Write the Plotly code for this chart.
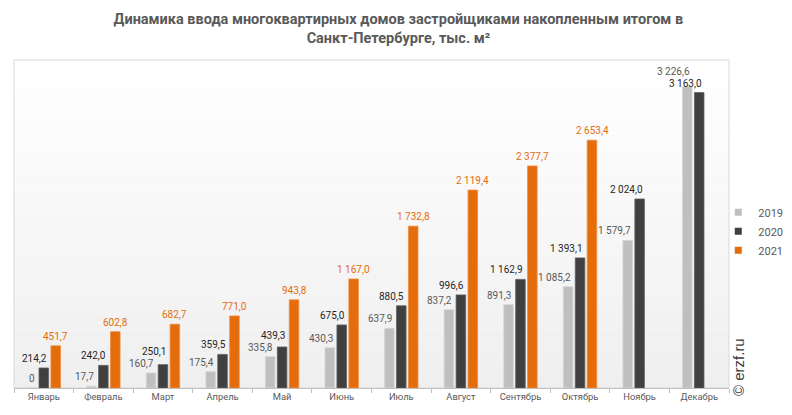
import plotly.graph_objects as go

months = ["Январь", "Февраль", "Март", "Апрель", "Май", "Июнь", "Июль",
          "Август", "Сентябрь", "Октябрь", "Ноябрь", "Декабрь"]
series_names = ["2019", "2020", "2021"]
v2019 = [0, 17.7, 160.7, 175.4, 335.8, 430.3, 637.9, 837.2, 891.3, 1085.2, 1579.7, 3226.6]
v2020 = [214.2, 242.0, 250.1, 359.5, 439.3, 675.0, 880.5, 996.6, 1162.9, 1393.1, 2024.0, 3163.0]
v2021 = [451.7, 602.8, 682.7, 771.0, 943.8, 1167.0, 1732.8, 2119.4, 2377.7, 2653.4, None, None]

title_text = "Динамика ввода многоквартирных домов застройщиками накопленным итогом в<br>Санкт-Петербурге, тыс. м²"
watermark = "© erzf.ru"

bar_colors = ["#bfbfbf", "#404040", "#e46c0a"]
line_colors = ["#d4d4d4", "#5e5e5e", "#f08a3c"]
label_colors = ["#595959", "#262626", "#e46c0a"]
# label placement per series: (xanchor, xshift)
label_place = [("right", -7), ("right", 5), ("center", 12)]

FONT = "Roboto, Arial, sans-serif"
W, H = 792, 415
ML, MR, MT, MB = 14, 63, 60, 27
YMAX = 3512
PX_PER_UNIT = (H - MT - MB) / YMAX
MIN_SEP = 12  # px between stacked labels of one month
BASE_SHIFT = 2


def fmt(v):
    if v == 0:
        return "0"
    s = f"{v:,.1f}"
    return s.replace(",", " ").replace(".", ",")


fig = go.Figure()
all_series = [v2019, v2020, v2021]
for name, vals, col, lcol in zip(series_names, all_series, bar_colors, line_colors):
    fig.add_trace(go.Bar(
        x=months, y=vals, name=name, showlegend=False,
        marker=dict(color=col, line=dict(color=lcol, width=0.8)),
        hoverinfo="x+y",
    ))
    # legend entry with small square marker
    fig.add_trace(go.Scatter(
        x=[None], y=[None], mode="markers", name=name,
        marker=dict(symbol="square", size=7, color=col),
    ))

annotations = []
for mi, m in enumerate(months):
    items = []
    for si, vals in enumerate(all_series):
        v = vals[mi]
        if v is None:
            continue
        items.append([si, v, v * PX_PER_UNIT + BASE_SHIFT])
    # resolve collisions between neighbouring series: raise the higher label
    for a in range(len(items) - 1):
        lo, hi = items[a], items[a + 1]
        if abs(hi[2] - lo[2]) < MIN_SEP:
            if hi[1] >= lo[1]:
                hi[2] = lo[2] + MIN_SEP
            else:
                lo[2] = hi[2] + MIN_SEP
    for si, v, hpx in items:
        xa, xs = label_place[si]
        annotations.append(dict(
            x=m, y=v, xref="x", yref="y", text=fmt(v), showarrow=False,
            xanchor=xa, yanchor="bottom", xshift=xs,
            yshift=hpx - v * PX_PER_UNIT,
            font=dict(family=FONT, size=10, color=label_colors[si]),
        ))

annotations.append(dict(
    x=1.0126, y=0.064, xref="paper", yref="paper", text=watermark,
    showarrow=False, textangle=-90, xanchor="center", yanchor="middle",
    font=dict(family="Liberation Sans, Arial, sans-serif", size=15, color="#404040"),
))

# vertical gradient background for plot area (stripes)
shapes = []
n = 40
for i in range(n):
    t = i / (n - 1)
    g = int(round(0xEF + (0xFF - 0xEF) * t))
    c = f"rgb({g},{g},{g})"
    shapes.append(dict(type="rect", xref="paper", yref="paper",
                       x0=0, x1=1, y0=i / n, y1=(i + 1) / n,
                       fillcolor=c, line=dict(width=0), layer="below"))
shapes.append(dict(type="rect", xref="paper", yref="paper", x0=0, x1=1, y0=0, y1=1,
                   line=dict(color="#d9d9d9", width=1), fillcolor="rgba(0,0,0,0)",
                   layer="below"))

fig.update_layout(
    width=W, height=H,
    margin=dict(l=ML, r=MR, t=MT, b=MB, autoexpand=False),
    paper_bgcolor="white", plot_bgcolor="rgba(0,0,0,0)",
    barmode="group", bargap=0.4, bargroupgap=0.2,
    title=dict(text=title_text, x=0.503, xanchor="center", y=0.941, yanchor="top",
               font=dict(family=FONT, size=14.5, color="#595959", weight="bold")),
    font=dict(family=FONT, size=10, color="#595959"),
    xaxis=dict(type="category", showline=True, linecolor="#bfbfbf", linewidth=1,
               ticks="outside", tickson="boundaries", ticklen=4, tickcolor="#bfbfbf",
               showgrid=False, tickfont=dict(family=FONT, size=9.4, color="#595959")),
    yaxis=dict(range=[0, YMAX], visible=False, showgrid=False, zeroline=False),
    legend=dict(x=0.985, y=0.58, xanchor="left", yanchor="top",
                bgcolor="rgba(0,0,0,0)", font=dict(family=FONT, size=11, color="#595959"),
                itemwidth=30),
    annotations=annotations, shapes=shapes,
    hovermode="closest",
)

fig.write_html("out.html", config={"displayModeBar": False},
               post_script="document.body.style.margin='0';document.body.style.padding='0';document.body.style.overflow='hidden';")
